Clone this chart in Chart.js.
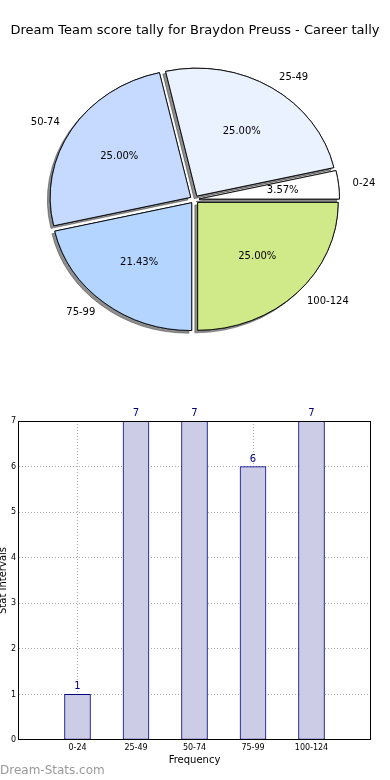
<!DOCTYPE html>
<html><head><meta charset="utf-8">
<script src="https://cdn.jsdelivr.net/npm/chart.js@4/dist/chart.umd.min.js"></script>
<style>
html,body{margin:0;padding:0;background:#fff;width:390px;height:780px;overflow:hidden;font-family:"DejaVu Sans";}
#title{position:absolute;left:0;top:22px;width:390px;text-align:center;font:13px/16px "DejaVu Sans";color:#000;white-space:nowrap;}
#pieWrap{position:absolute;left:0;top:0;width:390px;height:390px;}
#barWrap{position:absolute;left:0;top:390px;width:390px;height:390px;}
#wm{position:absolute;left:0;top:763px;font:12px/14px "DejaVu Sans";color:#9a9a9a;}
</style></head><body>
<div id="pieWrap"><canvas id="pie" width="390" height="390"></canvas></div>
<div id="barWrap"><canvas id="bar" width="390" height="390"></canvas></div>
<div id="title">Dream Team score tally for Braydon Preuss - Career tally</div>
<div id="wm">Dream-Stats.com</div>
<script>
// ---- data ----
const categories = ['0-24', '25-49', '50-74', '75-99', '100-124'];
const counts = [1, 7, 7, 6, 7];
const pieColors = ['#ffffff', '#eaf1ff', '#c6d9fe', '#b3d5ff', '#d0ea8a'];
const chartTitle = 'Dream Team score tally for Braydon Preuss - Career tally';
const xAxisTitle = 'Frequency';
const yAxisTitle = 'Stat Intervals';

// ---- pie (matplotlib style: starts at 3 o'clock, counter-clockwise) ----
const SY = 0.91;       // vertical squash of the pie
const EXPLODE = 4.5;   // px
const pieLabels = categories.slice().reverse();
const pieData = counts.slice().reverse();
const pieBg = pieColors.slice().reverse();

const pieLook = {
  id: 'pieLook',
  beforeDatasetDraw(chart, args) {
    const ctx = chart.ctx;
    const arcs = args.meta.data;
    const cx = arcs[0].x, cy = arcs[0].y;
    const drawAll = () => arcs.forEach(arc => {
      const mid = (arc.startAngle + arc.endAngle) / 2;
      ctx.save();
      ctx.translate(Math.cos(mid) * EXPLODE, Math.sin(mid) * EXPLODE);
      arc.draw(ctx);
      ctx.restore();
    });
    ctx.save();
    ctx.translate(cx, cy); ctx.scale(1, SY); ctx.translate(-cx, -cy);
    ctx.save();
    ctx.shadowColor = 'rgba(50,50,50,0.55)';
    ctx.shadowOffsetX = -2.8; ctx.shadowOffsetY = 2.6; ctx.shadowBlur = 0;
    drawAll();
    ctx.restore();
    drawAll();
    ctx.restore();
    return false;
  },
  afterDatasetsDraw(chart) {
    const ctx = chart.ctx;
    const meta = chart.getDatasetMeta(0);
    const labels = chart.data.labels;
    const data = chart.data.datasets[0].data;
    const total = data.reduce((s, v) => s + v, 0);
    ctx.save();
    ctx.font = '10px "DejaVu Sans"';
    ctx.fillStyle = '#000';
    ctx.textBaseline = 'middle';
    meta.data.forEach((arc, i) => {
      const mid = (arc.startAngle + arc.endAngle) / 2;
      const r = arc.outerRadius;
      const c = Math.cos(mid), s = Math.sin(mid);
      const px = d => arc.x + c * (EXPLODE + d);
      const py = d => arc.y + s * (EXPLODE + d) * SY;
      ctx.textAlign = 'center';
      ctx.fillText((data[i] / total * 100).toFixed(2) + '%', px(0.6 * r), py(0.6 * r));
      ctx.textAlign = c >= 0 ? 'left' : 'right';
      ctx.fillText(labels[i], px(1.1 * r), py(1.1 * r));
    });
    ctx.restore();
  }
};

new Chart(document.getElementById('pie'), {
  type: 'pie',
  data: {
    labels: pieLabels,
    datasets: [{ data: pieData, backgroundColor: pieBg, borderColor: '#000', borderWidth: 0.9, offset: 0, hoverOffset: 0 }]
  },
  options: {
    responsive: false, animation: false, events: [],
    rotation: 90, radius: 140.5,
    layout: { padding: { top: 9, right: 1, left: 0, bottom: 0 } },
    plugins: { legend: { display: false }, tooltip: { enabled: false } }
  },
  plugins: [pieLook]
});

// ---- bar ----
const barLook = {
  id: 'barLook',
  afterDatasetsDraw(chart) {
    const ctx = chart.ctx;
    const meta = chart.getDatasetMeta(0);
    ctx.save();
    ctx.font = '10px "DejaVu Sans"';
    ctx.fillStyle = '#000080';
    ctx.textAlign = 'center';
    ctx.textBaseline = 'alphabetic';
    meta.data.forEach((bar, i) => ctx.fillText(String(counts[i]), bar.x, bar.y - 5));
    ctx.restore();
  },
  afterDraw(chart) {
    const a = chart.chartArea, ctx = chart.ctx;
    ctx.save();
    ctx.strokeStyle = '#000';
    ctx.lineWidth = 1;
    ctx.strokeRect(Math.round(a.left) - 0.5, Math.round(a.top) + 0.5, Math.round(a.right - a.left) + 1, Math.round(a.bottom - a.top) - 1);
    ctx.restore();
  }
};

const gridColor = (edgeA, edgeB) => c => (c.tick && (c.tick.value === edgeA || c.tick.value === edgeB)) ? 'rgba(0,0,0,0)' : '#aaaaaa';

new Chart(document.getElementById('bar'), {
  type: 'bar',
  data: {
    datasets: [{
      data: categories.map((c, i) => ({ x: i + 1, y: counts[i] })),
      backgroundColor: 'rgb(204,204,230)',
      borderColor: '#000080',
      borderWidth: 1,
      borderSkipped: false,
      barThickness: 26
    }]
  },
  options: {
    responsive: false, animation: false, events: [],
    layout: { padding: { top: 31, right: 20, left: 0, bottom: 0 } },
    plugins: { legend: { display: false }, tooltip: { enabled: false } },
    scales: {
      x: {
        type: 'linear', min: 0, max: 6, offset: false, z: 1,
        afterFit: s => { s.height = 40; },
        ticks: { stepSize: 1, autoSkip: false, maxRotation: 0, padding: 3, color: '#000',
          font: { family: 'DejaVu Sans', size: 8 }, callback: v => categories[v - 1] ?? '' },
        grid: { offset: false, drawTicks: false, lineWidth: 1, color: gridColor(0, 6) },
        border: { display: false, dash: [1, 2] },
        title: { display: true, text: xAxisTitle, color: '#000', font: { family: 'DejaVu Sans', size: 10 }, padding: { top: 0, bottom: 14 } }
      },
      y: {
        min: 0, max: 7, z: 1,
        afterFit: s => { s.width = 19; },
        ticks: { stepSize: 1, padding: 3, color: '#000', font: { family: 'DejaVu Sans', size: 8 } },
        grid: { drawTicks: false, lineWidth: 1, color: gridColor(0, 7) },
        border: { display: false, dash: [1, 2] },
        title: { display: true, text: yAxisTitle, color: '#000', font: { family: 'DejaVu Sans', size: 10 }, padding: { top: -3, bottom: 0 } }
      }
    }
  },
  plugins: [barLook]
});
</script>
</body></html>
